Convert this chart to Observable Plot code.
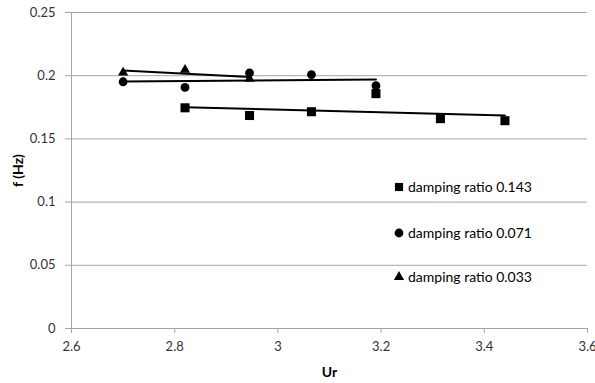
<!DOCTYPE html>
<html><head><meta charset="utf-8">
<script src="https://cdn.jsdelivr.net/npm/d3@7"></script>
<script src="https://cdn.jsdelivr.net/npm/@observablehq/plot@0.6"></script>
<style>
body{margin:0;background:#fff;}
#chart{position:relative;width:595px;height:383px;font-family:Lato,"Open Sans",sans-serif;}
#chart svg.plot{position:absolute;left:0;top:0;}
#chart [aria-label="x-axis label"] text,#chart [aria-label="y-axis label"] text{font-weight:bold;font-size:14px;fill:#000;}
#chart [aria-label="x-axis tick label"] text,#chart [aria-label="y-axis tick label"] text{fill:#333;}
.leg{position:absolute;left:393px;display:flex;align-items:center;font-size:14px;color:#000;white-space:nowrap;}
.leg svg{margin-right:3px;}
</style></head><body><div id="chart"></div>
<script>
const seriesNames = ["damping ratio 0.143", "damping ratio 0.071", "damping ratio 0.033"];
const ur143 = [2.82, 2.945, 3.065, 3.19, 3.315, 3.44];
const f143  = [0.1746, 0.1685, 0.1715, 0.1858, 0.1660, 0.1644];
const ur071 = [2.70, 2.82, 2.945, 3.065, 3.19];
const f071  = [0.1952, 0.1907, 0.2022, 0.2009, 0.1921];
const ur033 = [2.70, 2.82, 2.945];
const f033  = [0.2025, 0.2046, 0.1975];
const xTicks = [2.6, 2.8, 3.0, 3.2, 3.4, 3.6];
const yTicks = [0, 0.05, 0.1, 0.15, 0.2, 0.25];
const symbols = ["square", "circle", "triangle"];

const data = [
  ...ur143.map((x, i) => ({x, y: f143[i], s: seriesNames[0]})),
  ...ur071.map((x, i) => ({x, y: f071[i], s: seriesNames[1]})),
  ...ur033.map((x, i) => ({x, y: f033[i], s: seriesNames[2]}))
];
const rFor = {square: 5.1, circle: 4.4, triangle: 3.8};

const plot = Plot.plot({
  width: 595, height: 383,
  marginLeft: 71, marginRight: 8, marginTop: 12, marginBottom: 55,
  style: {fontFamily: "Lato, 'Open Sans', sans-serif", fontSize: "13px", background: "transparent"},
  x: {domain: [2.6, 3.6]},
  y: {domain: [0, 0.25]},
  symbol: {domain: seriesNames, range: symbols},
  marks: [
    Plot.gridY(yTicks, {stroke: "#a6a6a6", strokeOpacity: 1, strokeWidth: 1}),
    Plot.ruleX([2.6], {stroke: "#a6a6a6", strokeWidth: 1}),
    Plot.ruleY([0], {stroke: "#a6a6a6", strokeWidth: 1}),
    Plot.axisX(xTicks, {tickSize: 5, tickPadding: 8, stroke: "#a6a6a6", tickFormat: d3.format("~g"),
      label: "Ur", labelAnchor: "center", labelArrow: "none", labelOffset: 48}),
    Plot.axisY(yTicks, {tickSize: 6, tickPadding: 10, stroke: "#a6a6a6", tickFormat: d3.format("~g"),
      label: "f (Hz)", labelAnchor: "center", labelArrow: "none", labelOffset: 58}),
    Plot.linearRegressionY(data, {x: "x", y: "y", z: "s", stroke: "black", strokeWidth: 2, ci: 0}),
    ...symbols.map((sym, k) => Plot.dot(data.filter(d => d.s === seriesNames[k]),
      {x: "x", y: "y", symbol: "s", fill: "black", stroke: "none", r: rFor[sym]}))
  ]
});
plot.classList.add("plot");
const chart = document.getElementById("chart");
chart.appendChild(plot);

const legTops = [186.5, 232.5, 276.5];
seriesNames.forEach((name, k) => {
  const div = d3.select(chart).append("div").attr("class", "leg").style("top", (legTops[k] - 10) + "px");
  const svg = div.append("svg").attr("width", 12).attr("height", 20);
  const area = Math.PI * [4.6, 4.4, 3.8][k] ** 2;
  const sym = [d3.symbolSquare, d3.symbolCircle, d3.symbolTriangle][k];
  svg.append("path").attr("transform", "translate(6,10)").attr("d", d3.symbol(sym, area)()).attr("fill", "black");
  div.append("span").text(name);
});
</script></body></html>
